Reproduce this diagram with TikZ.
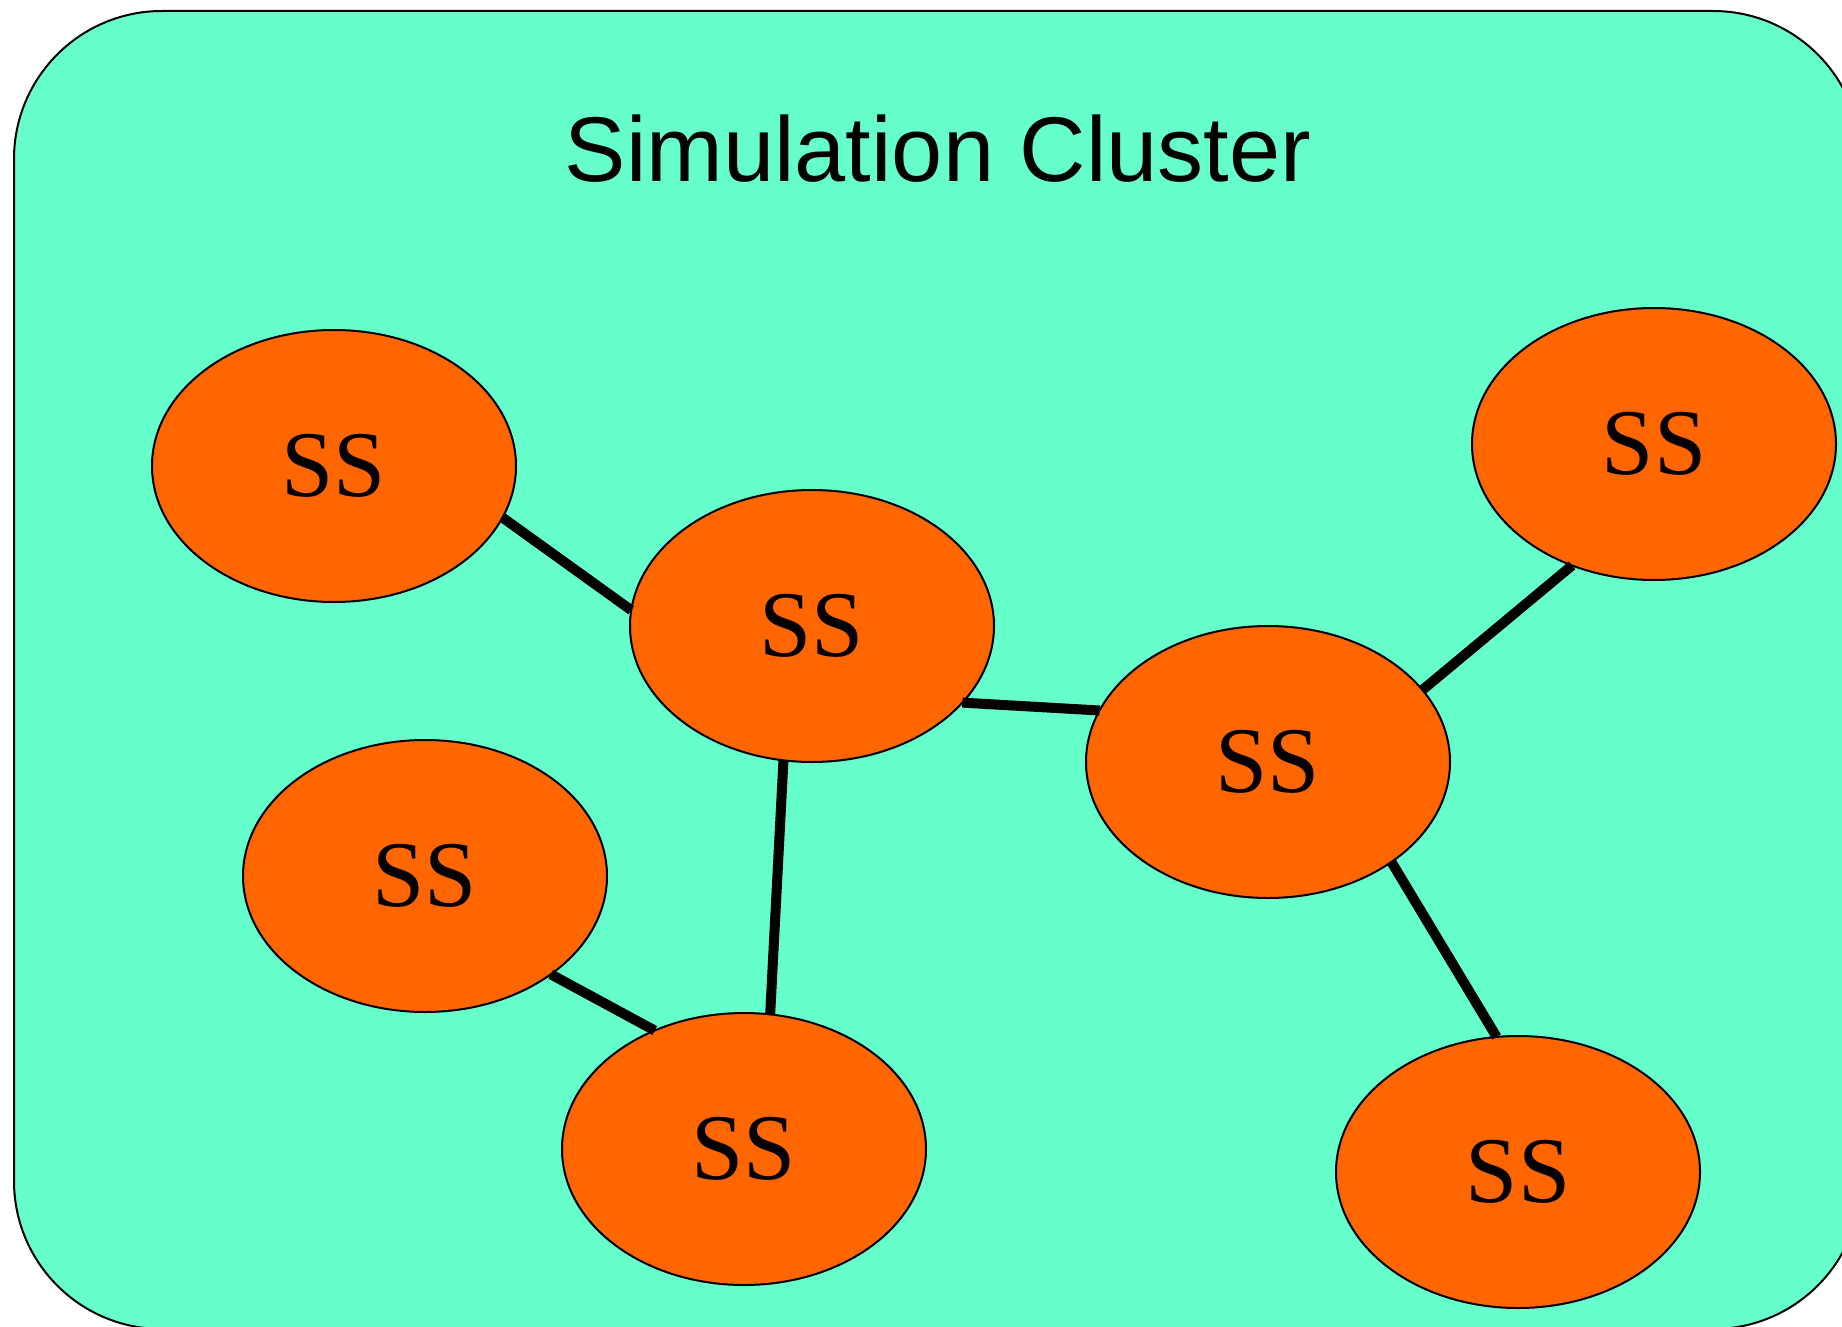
\documentclass[tikz,border=0pt]{standalone}
\usepackage{fontspec}
\setmainfont{Liberation Serif}
\newfontfamily\titlefont{Liberation Sans}
\usetikzlibrary{shapes.geometric}
\definecolor{clusterfill}{RGB}{102,255,204}
\definecolor{simfill}{RGB}{255,102,0}
\begin{document}
\begin{tikzpicture}[x=1pt,y=-1pt,
  sim/.style={ellipse, draw=black, line width=2pt, fill=simfill,
    minimum width=364pt, minimum height=272pt, inner sep=0pt, outer sep=0pt,
    font=\fontsize{94}{94}\selectfont},
  link/.style={line width=10pt}]
  \useasboundingbox (0,0) rectangle (1842,1327);
  % cluster background
  \draw[line width=2pt, fill=clusterfill, rounded corners=148pt]
    (14,11) rectangle (1861,1329);
  \node[font=\titlefont\fontsize{92}{92}\selectfont, anchor=base] (title)
    at (938,182) {Simulation Cluster};
  % simulation servers
  \node[sim] (s1) at (334,466) {SS};
  \node[sim] (s2) at (812,626) {SS};
  \node[sim] (s3) at (1268,762) {SS};
  \node[sim] (s4) at (1654,444) {SS};
  \node[sim] (s5) at (425,876) {SS};
  \node[sim] (s6) at (744,1149) {SS};
  \node[sim] (s7) at (1518,1172) {SS};
  % links, attached at fixed points on the borders
  \draw[link] (s1.-17.2) -- (s2.175.2);
  \draw[link] (s2.-27.5) -- (s3.163.3);
  \draw[link] (s2.258.8) -- (s6.79.7);
  \draw[link] (s5.-38.3) -- (s6.127.5);
  \draw[link] (s3.25) -- (s4.236.2);
  \draw[link] (s3.-39.6) -- (s7.99.9);
\end{tikzpicture}
\end{document}
